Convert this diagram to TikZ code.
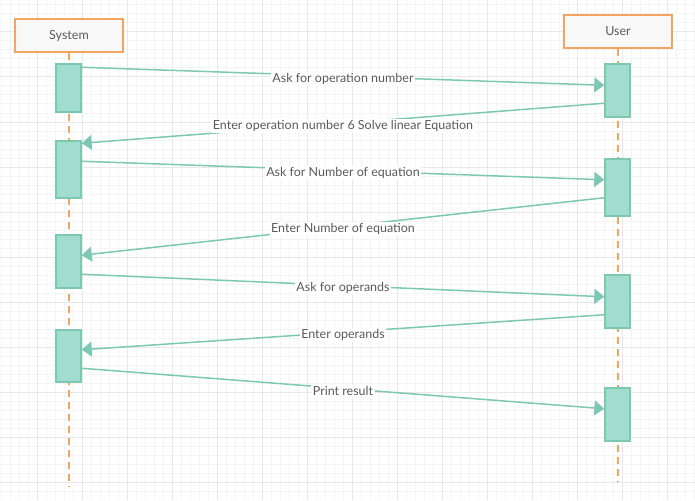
\documentclass[tikz,border=0pt]{standalone}
\usepackage{fontspec}
\setmainfont{Lato}
\usepackage{tikz}
\usetikzlibrary{arrows.meta, calc}
\usepackage{xcolor}
\definecolor{lineorange}{HTML}{F2A55F}
\definecolor{boxgray}{HTML}{F8F8F8}
\definecolor{msgteal}{HTML}{7DC8B1}
\definecolor{actfill}{HTML}{A0DDCE}
\definecolor{txtgray}{HTML}{5A5A5A}
\definecolor{gridminor}{HTML}{F4F4F4}
\definecolor{gridmajor}{HTML}{E8E8E8}

\begin{document}
\begin{tikzpicture}[x=1pt, y=-1pt, font=\fontsize{12.5}{14}\selectfont, text=txtgray,
    actor/.style={draw=lineorange, line width=2pt, fill=boxgray, minimum width=108pt, minimum height=33pt, inner sep=0pt},
    lifeline/.style={draw=lineorange, line width=2pt, dash pattern=on 7pt off 5pt},
    activation/.style={draw=msgteal, line width=1.5pt, fill=actfill, minimum width=25pt, inner sep=0pt},
    msg/.style={draw=msgteal, line width=1.5pt, -{Triangle[length=10pt, width=15pt]}},
    msglabel/.style={fill=white, inner sep=1.5pt, yshift=-2.5pt}]
      \useasboundingbox (0,0) rectangle (695,500);
      \fill [white] (0,0) rectangle (695,500);
      \foreach \gx in {1,10,...,694} \draw [gridminor, line width=1pt] (\gx,0) -- (\gx,500);
      \foreach \gy in {5,14,...,499} \draw [gridminor, line width=1pt] (0,\gy) -- (695,\gy);
      \foreach \gx in {37,82,...,694} \draw [gridmajor, line width=1pt] (\gx,0) -- (\gx,500);
      \foreach \gy in {32,77,...,499} \draw [gridmajor, line width=1pt] (0,\gy) -- (695,\gy);

      \node [actor] (sys) at (69,36) {System};
      \node [actor] (usr) at (618,31.5) {User};
      \coordinate (sysend) at (69,487);
      \coordinate (usrend) at (618,482);
      \draw [lifeline] (sys.south) -- (sysend);
      \draw [lifeline] (usr.south) -- (usrend);

      \node [activation, minimum height=48pt] (s1) at (68.5,88) {};
      \node [activation, minimum height=57pt] (s2) at (68.5,169.5) {};
      \node [activation, minimum height=53pt] (s3) at (68.5,261.5) {};
      \node [activation, minimum height=52pt] (s4) at (68.5,356) {};
      \node [activation, minimum height=53pt] (u1) at (617.5,90.5) {};
      \node [activation, minimum height=57pt] (u2) at (617.5,187.5) {};
      \node [activation, minimum height=53pt] (u3) at (617.5,301.5) {};
      \node [activation, minimum height=53pt] (u4) at (617.5,414.5) {};

      \draw [msg] ($(s1.north east)+(0,4)$) -- node [msglabel] {Ask for operation number} ($(u1.north west)+(0,22)$);
      \draw [msg] ($(u1.north west)+(0,40)$) -- node [msglabel] {Enter operation number 6 Solve linear Equation} ($(s2.north east)+(0,3)$);
      \draw [msg] ($(s2.north east)+(0,21)$) -- node [msglabel] {Ask for Number of equation} ($(u2.north west)+(0,21.5)$);
      \draw [msg] ($(u2.north west)+(0,39.5)$) -- node [msglabel] {Enter Number of equation} ($(s3.north east)+(0,21)$);
      \draw [msg] ($(s3.north east)+(0,40)$) -- node [msglabel] {Ask for operands} ($(u3.north west)+(0,22.5)$);
      \draw [msg] ($(u3.north west)+(0,40.5)$) -- node [msglabel] {Enter operands} ($(s4.north east)+(0,20.5)$);
      \draw [msg] ($(s4.north east)+(0,39)$) -- node [msglabel] {Print result} ($(u4.north west)+(0,21.5)$);
    \end{tikzpicture}
\end{document}
